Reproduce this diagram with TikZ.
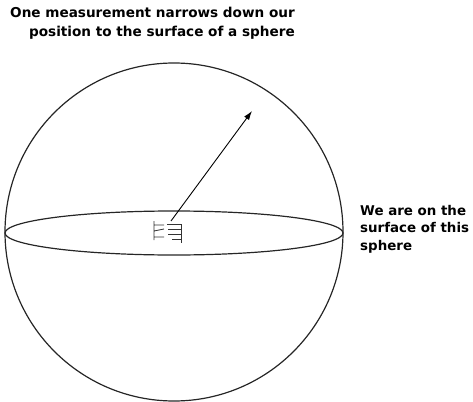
\documentclass[tikz,border=0pt]{standalone}
\usepackage{fontspec}
\setmainfont{DejaVu Sans}
\usetikzlibrary{arrows.meta,shapes.geometric}
\begin{document}
\begin{tikzpicture}[x=1pt,y=-1pt,
  outline/.style={line width=1.2pt, black!85},
  lbl/.style={font=\bfseries\fontsize{13.4}{17.5}\selectfont, inner sep=0pt},
  ttl/.style={font=\bfseries\fontsize{13.6}{19}\selectfont, inner sep=0pt},
  ray/.style={line width=0.9pt, -{Latex[length=9pt,width=6pt]}}]
\useasboundingbox (0,0) rectangle (473,401);
\node[ttl, align=right, anchor=north east] (title) at (295,7) {One measurement narrows down our\\position to the surface of a sphere};
\node[outline, draw, circle, minimum size=338pt, inner sep=0pt] (sphere) at (174,232) {};
\node[outline, draw, ellipse, minimum width=338pt, minimum height=44pt, inner sep=0pt] (equator) at (174,233) {};
\coordinate (centre) at (171,221);
\coordinate (surf) at (252,111);
\draw[ray] (centre) -- (surf);
\node[lbl, align=left, anchor=north west] (note) at (360,205) {We are on the\\surface of this\\sphere};
% small icon at the centre
\begin{scope}[line width=0.8pt, black!80]
\draw (154,221) -- (154,240) (154,225) -- (164,225) (154,231) -- (164,229) (154,237) -- (164,237);
\draw (167,224) -- (182,224) (168,229) -- (181,229) (168,234) -- (181,234) (172,239) -- (181,239) (181,224) -- (181,243);
\end{scope}
\end{tikzpicture}
\end{document}
